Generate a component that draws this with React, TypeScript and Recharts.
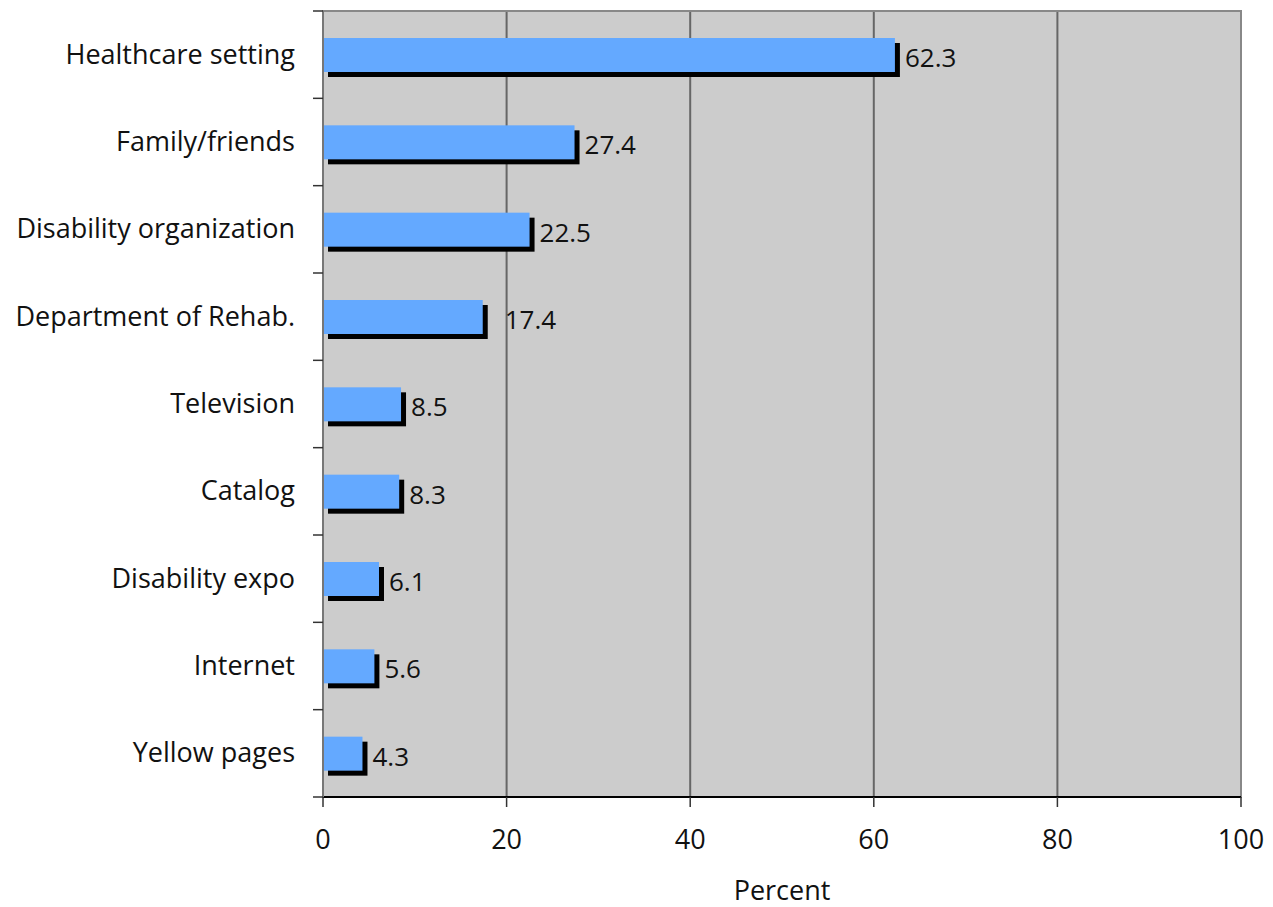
import React from 'react'
import { BarChart, Bar, XAxis, YAxis, CartesianGrid, ReferenceArea, LabelList } from 'recharts'

const categories = [
  'Healthcare setting',
  'Family/friends',
  'Disability organization',
  'Department of Rehab.',
  'Television',
  'Catalog',
  'Disability expo',
  'Internet',
  'Yellow pages'
]
const percents = [62.3, 27.4, 22.5, 17.4, 8.5, 8.3, 6.1, 5.6, 4.3]
const xTicks = [0, 20, 40, 60, 80, 100]

const data = categories.map((name, i) => ({ name, value: percents[i] }))

const FONT = '"Open Sans", sans-serif'
const PLOT_TOP = 3
const PLOT_BOTTOM = 789
const BAND = (PLOT_BOTTOM - PLOT_TOP) / categories.length
const SHADOW = 5

function ShadowBar(props: any) {
  const { x, y, width, height } = props
  if (width == null || height == null) return null
  return (
    <g>
      <rect x={x + SHADOW} y={y + SHADOW} width={width} height={height} fill="#000" />
      <rect x={x} y={y} width={width} height={height} fill="#64a9ff" />
    </g>
  )
}

function CategoryTick(props: any) {
  const { x, y, payload, index } = props
  const last = index === categories.length - 1
  return (
    <g>
      <line x1={x - 2} x2={x + 8} y1={y - BAND / 2} y2={y - BAND / 2} stroke="#333" strokeWidth={1.5} />
      {last && (
        <line x1={x - 2} x2={x + 8} y1={y + BAND / 2} y2={y + BAND / 2} stroke="#333" strokeWidth={1.5} />
      )}
      <text x={x - 20} y={y} dy={9} textAnchor="end" fontSize={27} fontFamily={FONT} fill="#111">
        {payload.value}
      </text>
    </g>
  )
}

function PercentTick(props: any) {
  const { x, y, payload } = props
  return (
    <g>
      <line x1={x} x2={x} y1={y - 8} y2={y + 2} stroke="#333" strokeWidth={1.5} />
      <text x={x} y={y} dy={44} textAnchor="middle" fontSize={27} fontFamily={FONT} fill="#111">
        {payload.value}
      </text>
    </g>
  )
}

// 17.4 sits a bit further out in the original
const labelNudge: Record<number, number> = { 3: 12 }

function ValueLabel(props: any) {
  const { x, y, width, height, value, index } = props
  return (
    <text
      x={x + width + 10 + (labelNudge[index] || 0)}
      y={y + height / 2 + 3}
      dy={9}
      fontSize={26}
      fontFamily={FONT}
      fill="#111"
    >
      {value}
    </text>
  )
}

export default function App() {
  return (
    <div style={{ width: 1257, height: 899 }}>
      <BarChart
        width={1257}
        height={899}
        data={data}
        layout="vertical"
        margin={{ top: PLOT_TOP, right: 24, bottom: 0, left: 0 }}
        barCategoryGap={0}
      >
        <CartesianGrid horizontal={false} stroke="#666" strokeWidth={2} fill="#cccccc" />
        <ReferenceArea x1={0} x2={100} fill="none" stroke="#888" strokeWidth={2} ifOverflow="extendDomain" />
        <XAxis
          type="number"
          domain={[0, 100]}
          ticks={xTicks}
          interval={0}
          axisLine={{ stroke: '#000', strokeWidth: 2 }}
          tickLine={false}
          tick={<PercentTick />}
          height={899 - PLOT_BOTTOM}
          label={{ value: 'Percent', position: 'insideBottom', offset: 7, fontSize: 27, fontFamily: FONT, fill: '#111' }}
        />
        <YAxis
          type="category"
          dataKey="name"
          width={315}
          axisLine={{ stroke: '#777', strokeWidth: 2 }}
          tickLine={false}
          tick={<CategoryTick />}
          interval={0}
        />
        <Bar dataKey="value" barSize={34} shape={<ShadowBar />} isAnimationActive={false}>
          <LabelList dataKey="value" content={<ValueLabel />} />
        </Bar>
      </BarChart>
    </div>
  )
}
